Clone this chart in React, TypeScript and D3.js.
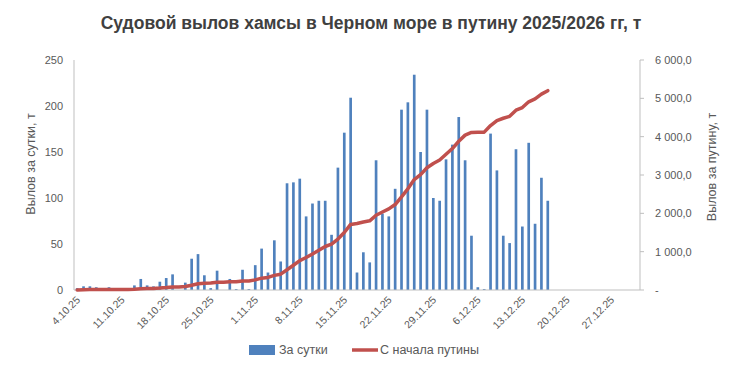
import React, { useRef, useEffect } from 'react';
import * as d3 from 'd3';

// daily catch, t (4 Oct 2025 onward)
const dailyCatch: number[] = [
  2, 4, 4, 3, 0, 3, 0, 0, 0, 5, 12, 5, 4, 9, 13, 17, 0, 8, 34, 39, 16, 2, 21, 0, 12, 1, 22, 1,
  27, 45, 19, 54, 31, 116, 117, 121, 80, 94, 97, 97, 60, 133, 171, 209,
  19, 41, 30, 141, 83, 80, 110, 196, 204, 234, 150, 196, 100, 97, 142, 158, 188, 141, 59, 3, 1, 170,
  130, 59, 51, 153, 69, 160, 72, 122, 97,
];

// since start of season, t
const seasonTotal: number[] = [
  2, 6, 10, 13, 13, 16, 16, 16, 16, 21, 33, 38, 42, 51, 64, 81, 81, 89, 123, 162, 178, 180, 201, 201, 213, 214, 236, 237,
  264, 309, 328, 382, 413, 529, 646, 767, 847, 941, 1038, 1135, 1195, 1328, 1499, 1710,
  1735, 1775, 1805, 1950, 2035, 2115, 2230, 2430, 2640, 2880, 3010, 3190, 3300, 3390, 3540, 3690, 3880, 4040, 4110, 4115, 4118, 4290,
  4420, 4480, 4530, 4690, 4760, 4910, 4985, 5110, 5200,
];

const leftTicks = [0, 50, 100, 150, 200, 250];
const rightTicks = [0, 1000, 2000, 3000, 4000, 5000, 6000];

const startDay = new Date(2025, 9, 4);
const endDay = new Date(2026, 0, 1);
const days = d3.timeDay.range(startDay, endDay);

const fmtDay = (d: Date) => `${d.getDate()}.${d3.timeFormat('%m.%y')(d)}`;
const fmtRight = (v: number) => (v === 0 ? '-' : d3.format(',.1f')(v).replace(/,/g, ' ').replace('.', ','));

const App: React.FC = () => {
  const svgRef = useRef<SVGSVGElement | null>(null);

  useEffect(() => {
    document.body.style.margin = '0';
    const svg = d3.select(svgRef.current);
    svg.selectAll('*').remove();

    const margin = { top: 60, right: 93, bottom: 81, left: 74 };
    const W = 733;
    const H = 371;
    const width = W - margin.left - margin.right;
    const height = H - margin.top - margin.bottom;
    const font = "'Liberation Sans', Arial, sans-serif";

    const x = d3.scaleBand<number>()
      .domain(days.map((_, i) => i))
      .range([0, width])
      .paddingInner(0.58)
      .paddingOuter(0.29);

    const yL = d3.scaleLinear().domain([0, 250]).range([height, 0]);
    const yR = d3.scaleLinear().domain([0, 6000]).range([height, 0]);

    // title
    svg.append('text')
      .attr('x', 371)
      .attr('y', 29)
      .attr('text-anchor', 'middle')
      .attr('font-family', font)
      .attr('font-size', '17.5px')
      .attr('font-weight', 'bold')
      .attr('fill', '#404040')
      .text('Судовой вылов хамсы в Черном море в путину 2025/2026 гг, т');

    const g = svg.append('g').attr('transform', `translate(${margin.left},${margin.top})`);

    // bars
    g.selectAll('.bar')
      .data(dailyCatch)
      .enter()
      .append('rect')
      .attr('class', 'bar')
      .attr('x', (_, i) => x(i)!)
      .attr('y', d => yL(d))
      .attr('width', x.bandwidth())
      .attr('height', d => height - yL(d))
      .attr('fill', '#4F81BD');

    // axes lines
    g.append('line')
      .attr('x1', 0).attr('x2', 0).attr('y1', 0).attr('y2', height)
      .attr('stroke', '#BFBFBF');
    g.append('line')
      .attr('x1', width).attr('x2', width).attr('y1', 0).attr('y2', height)
      .attr('stroke', '#BFBFBF');
    g.append('line')
      .attr('x1', 0).attr('x2', width).attr('y1', height).attr('y2', height)
      .attr('stroke', '#BFBFBF');

    // left axis labels
    g.selectAll('.lt')
      .data(leftTicks)
      .enter()
      .append('text')
      .attr('x', -11)
      .attr('y', d => yL(d))
      .attr('dy', '0.35em')
      .attr('text-anchor', 'end')
      .attr('font-family', font)
      .attr('font-size', '11px')
      .attr('fill', '#595959')
      .text(d => d);

    // right axis ticks + labels
    g.selectAll('.rtick')
      .data(rightTicks)
      .enter()
      .append('line')
      .attr('x1', width).attr('x2', width + 4)
      .attr('y1', d => yR(d)).attr('y2', d => yR(d))
      .attr('stroke', '#BFBFBF');

    g.selectAll('.rt')
      .data(rightTicks)
      .enter()
      .append('text')
      .attr('x', width + 15)
      .attr('y', d => yR(d))
      .attr('dy', '0.35em')
      .attr('text-anchor', 'start')
      .attr('font-family', font)
      .attr('font-size', '11px')
      .attr('fill', '#595959')
      .text(d => fmtRight(d));

    // x labels every 7 days
    const labelIdx = days.map((_, i) => i).filter(i => i % 7 === 0);
    g.selectAll('.xl')
      .data(labelIdx)
      .enter()
      .append('text')
      .attr('transform', i => `translate(${x(i)! + x.bandwidth() / 2 + 1},${height + 8}) rotate(-45)`)
      .attr('text-anchor', 'end')
      .attr('dy', '0.35em')
      .attr('font-family', font)
      .attr('font-size', '10.5px')
      .attr('fill', '#595959')
      .text(i => fmtDay(days[i]));

    // cumulative line
    const line = d3.line<number>()
      .x((_, i) => x(i)! + x.bandwidth() / 2)
      .y(d => yR(d));

    g.append('path')
      .datum(seasonTotal)
      .attr('d', line)
      .attr('fill', 'none')
      .attr('stroke', '#C0504D')
      .attr('stroke-width', 3.5)
      .attr('stroke-linejoin', 'round')
      .attr('stroke-linecap', 'round');

    // axis titles
    svg.append('text')
      .attr('transform', `translate(35,${margin.top + height / 2 - 11}) rotate(-90)`)
      .attr('text-anchor', 'middle')
      .attr('font-family', font)
      .attr('font-size', '12.5px')
      .attr('fill', '#595959')
      .text('Вылов за сутки, т');

    svg.append('text')
      .attr('transform', `translate(716,${margin.top + height / 2 - 8}) rotate(-90)`)
      .attr('text-anchor', 'middle')
      .attr('font-family', font)
      .attr('font-size', '12.5px')
      .attr('fill', '#595959')
      .text('Вылов за путину, т');

    // legend
    const lg = svg.append('g').attr('transform', 'translate(0,350)');
    lg.append('rect')
      .attr('x', 249).attr('y', -5).attr('width', 26).attr('height', 10)
      .attr('fill', '#4F81BD');
    lg.append('text')
      .attr('x', 279).attr('y', 0).attr('dy', '0.35em')
      .attr('font-family', font).attr('font-size', '12.5px').attr('fill', '#595959')
      .text('За сутки');
    lg.append('line')
      .attr('x1', 352).attr('x2', 378).attr('y1', 0).attr('y2', 0)
      .attr('stroke', '#C0504D').attr('stroke-width', 3.5);
    lg.append('text')
      .attr('x', 380).attr('y', 0).attr('dy', '0.35em')
      .attr('font-family', font).attr('font-size', '12.5px').attr('fill', '#595959')
      .text('С начала путины');
  }, []);

  return <svg ref={svgRef} width={733} height={371} style={{ display: 'block' }}></svg>;
};

export default App;
